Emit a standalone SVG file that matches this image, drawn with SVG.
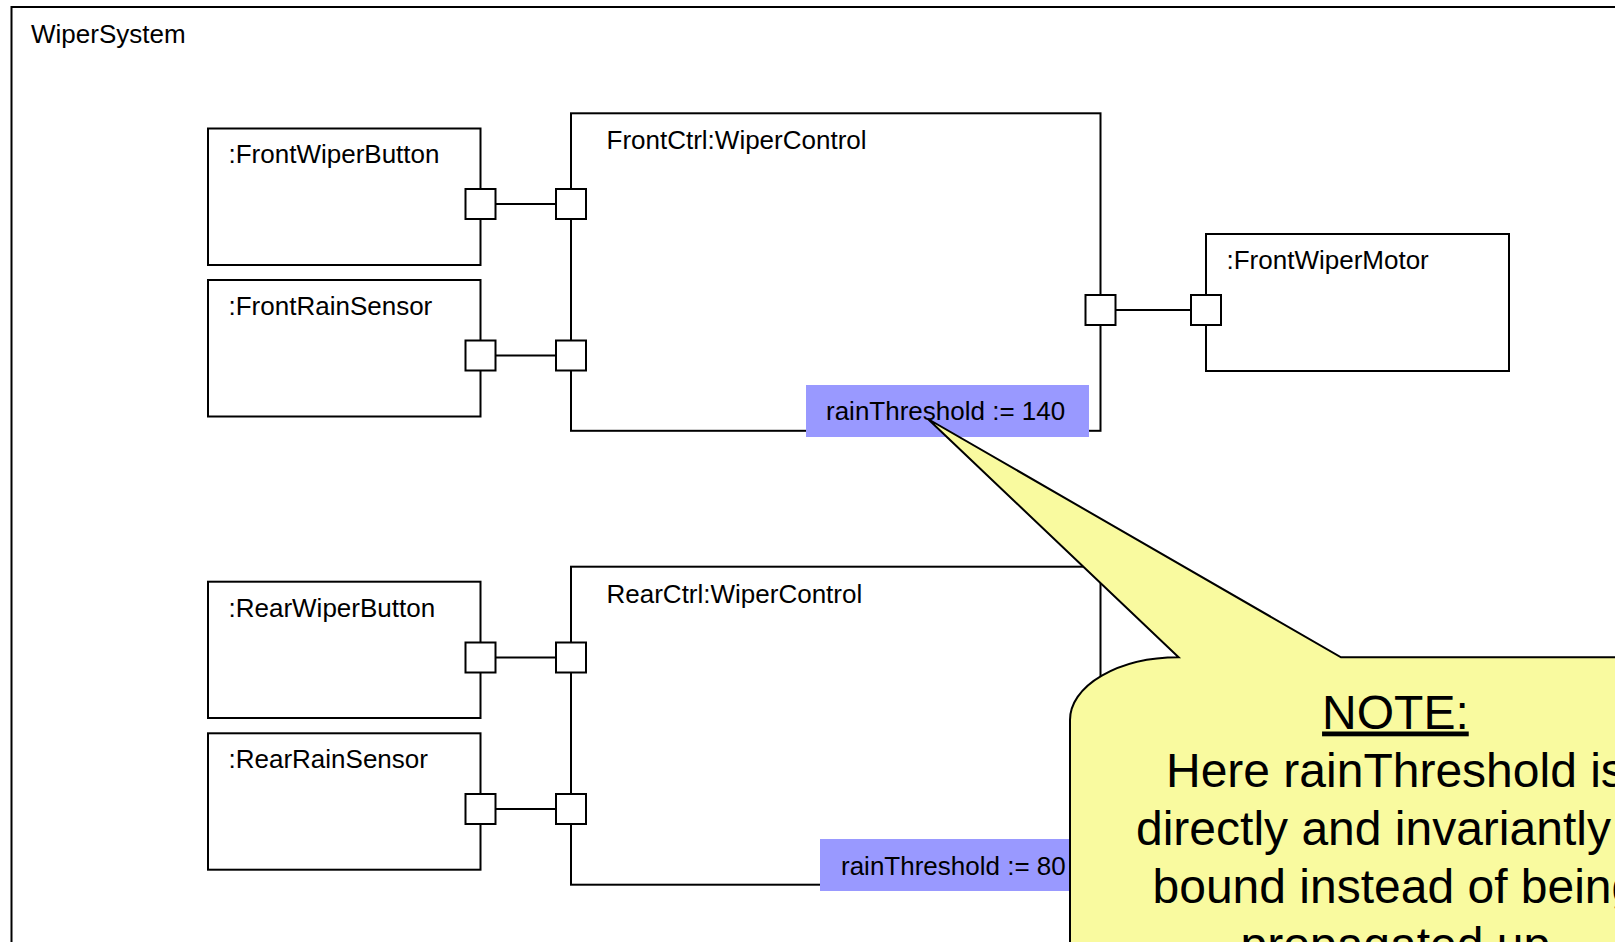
<svg xmlns="http://www.w3.org/2000/svg" width="1615" height="942" viewBox="0 0 1615 942">
<style>
.box{fill:#ffffff;stroke:#000000;stroke-width:2}
.port{fill:#ffffff;stroke:#000000;stroke-width:2}
.conn{stroke:#000000;stroke-width:2;fill:none}
.lbl{font-family:"Liberation Sans",Arial,sans-serif;font-size:26px;fill:#000000}
.val{fill:#9999ff;stroke:none}
.note{font-family:"Liberation Sans",Arial,sans-serif;font-size:48px;fill:#000000}
</style>
<rect width="1615" height="942" fill="#ffffff"/>
<g id="WiperSystem">
<rect class="box" x="11.5" y="7" width="1700" height="1000"/>
<text class="lbl" x="31" y="43">WiperSystem</text>
</g>
<g id="connectors">
<line class="conn" x1="495" y1="204" x2="556" y2="204"/>
<line class="conn" x1="495" y1="355.5" x2="556" y2="355.5"/>
<line class="conn" x1="1115" y1="310" x2="1191" y2="310"/>
<line class="conn" x1="495" y1="657.5" x2="556" y2="657.5"/>
<line class="conn" x1="495" y1="809" x2="556" y2="809"/>
</g>
<g id="FrontWiperButton">
<rect class="box" x="208" y="128.5" width="272.5" height="136.5"/>
<text class="lbl" x="228.5" y="163">:FrontWiperButton</text>
<rect class="port" x="465.5" y="189" width="30" height="30"/>
</g>
<g id="FrontRainSensor">
<rect class="box" x="208" y="280" width="272.5" height="136.5"/>
<text class="lbl" x="228.5" y="315">:FrontRainSensor</text>
<rect class="port" x="465.5" y="340.5" width="30" height="30"/>
</g>
<g id="FrontCtrl">
<rect class="box" x="571" y="113.3" width="529.5" height="317.5"/>
<text class="lbl" x="606.5" y="149">FrontCtrl:WiperControl</text>
<rect class="port" x="556" y="189" width="30" height="30"/>
<rect class="port" x="556" y="340.5" width="30" height="30"/>
<rect class="port" x="1085.5" y="295" width="30" height="30"/>
<rect class="val" x="806" y="385" width="283" height="52"/>
<text class="lbl" x="826" y="420">rainThreshold := 140</text>
</g>
<g id="FrontWiperMotor">
<rect class="box" x="1206" y="234" width="303" height="137"/>
<text class="lbl" x="1226.5" y="269">:FrontWiperMotor</text>
<rect class="port" x="1191" y="295" width="30" height="30"/>
</g>
<g id="RearWiperButton">
<rect class="box" x="208" y="581.7" width="272.5" height="136.3"/>
<text class="lbl" x="228.5" y="617">:RearWiperButton</text>
<rect class="port" x="465.5" y="642.5" width="30" height="30"/>
</g>
<g id="RearRainSensor">
<rect class="box" x="208" y="733.3" width="272.5" height="136.4"/>
<text class="lbl" x="228.5" y="768">:RearRainSensor</text>
<rect class="port" x="465.5" y="794" width="30" height="30"/>
</g>
<g id="RearCtrl">
<rect class="box" x="571" y="566.7" width="529.5" height="318"/>
<text class="lbl" x="606.5" y="602.5">RearCtrl:WiperControl</text>
<rect class="port" x="556" y="642.5" width="30" height="30"/>
<rect class="port" x="556" y="794" width="30" height="30"/>
<rect class="val" x="820" y="839" width="270" height="52"/>
<text class="lbl" x="841" y="875">rainThreshold := 80</text>
</g>
<g id="Note">
<path d="M 928 419 L 1341 657.3 L 1700 657.3 L 1700 1000 L 1070 1000 L 1070 720 A 108.6 62.7 0 0 1 1178.6 657.3 Z" fill="#f9fa9f" stroke="#000000" stroke-width="2" stroke-linejoin="miter"/>
<text class="note" x="1395.4" y="728.5" text-anchor="middle" text-decoration="underline">NOTE:</text>
<text class="note" x="1395.4" y="787" text-anchor="middle">Here rainThreshold is</text>
<text class="note" x="1136" y="845">directly and invariantly</text>
<text class="note" x="1395.4" y="903" text-anchor="middle">bound instead of being</text>
<text class="note" x="1395.4" y="961" text-anchor="middle">propagated up</text>
</g>
</svg>
